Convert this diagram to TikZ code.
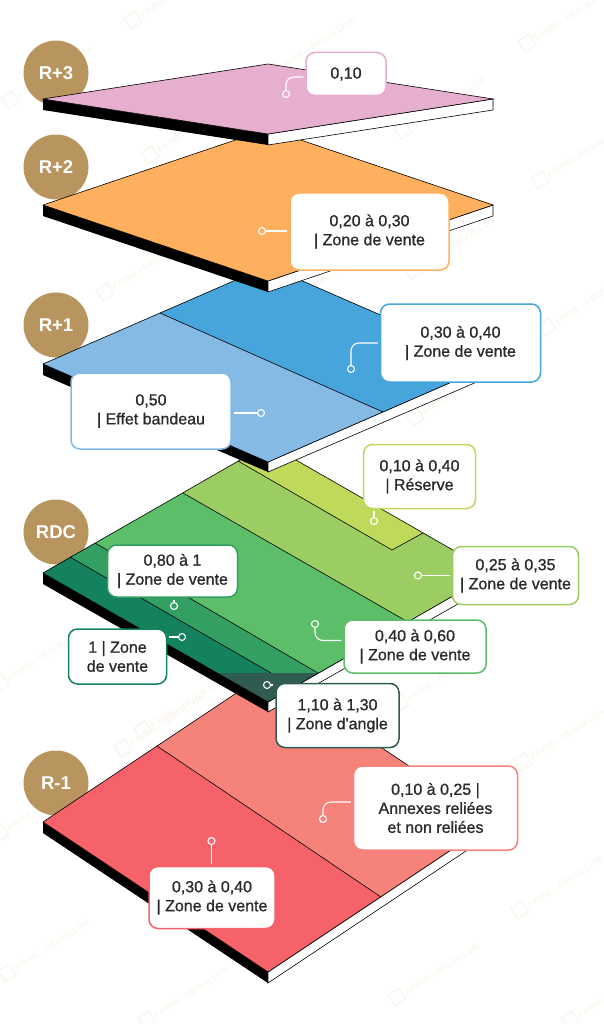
\documentclass[tikz,border=0pt]{standalone}
\usepackage{fontspec}
\setmainfont{Liberation Sans}
\newfontfamily\medfont[FakeBold=1]{Liberation Sans}
\usetikzlibrary{positioning}
\definecolor{badgecol}{HTML}{B8955F}
\definecolor{txtcol}{HTML}{2B2B2B}
\definecolor{wmcol}{HTML}{FAF6EE}
\definecolor{pinkcol}{HTML}{E6AECF}
\definecolor{orangecol}{HTML}{FFB05F}
\definecolor{bluecol}{HTML}{47A5DC}
\definecolor{lbluecol}{HTML}{85BAE5}
\definecolor{limecol}{HTML}{BFD95B}
\definecolor{lgreencol}{HTML}{9BCD63}
\definecolor{greencol}{HTML}{5CBE68}
\definecolor{mgreencol}{HTML}{339F63}
\definecolor{dgreencol}{HTML}{14815F}
\definecolor{tealcol}{HTML}{305B50}
\definecolor{redcol}{HTML}{F5626A}
\definecolor{salmoncol}{HTML}{F6837A}
\tikzset{badge/.style = {circle, fill = badgecol, minimum size = 65, inner sep = 0, text = white, font = \fontsize{18.5}{19}\selectfont\bfseries}}
\tikzset{lab/.style n args = {3}{draw = #1, fill = white, line width = 1.5, rounded corners = 9, minimum width = #2, minimum height = #3, inner sep = 2, align = center, text = txtcol, font = \fontsize{16}{19}\selectfont\medfont}}
\tikzset{dot/.style = {circle, draw = white, line width = 1.1, minimum size = 7, inner sep = 0}}
\tikzset{leader/.style = {white, line width = 1.1, rounded corners = 8, shorten > = 2}}
\tikzset{edge/.style = {draw = black, line width = 0.6}}
\begin{document}
\begin{tikzpicture}[x = 1pt, y = -1pt]
  \useasboundingbox (0, 0) rectangle (604, 1024);

  % watermark
  \foreach \i/\x/\y in {1/133/20, 2/272/72, 3/527/43, 4/150/155, 5/403/130, 6/540/180, 7/413/270, 8/10/100,
      9/105/292, 10/298/295, 11/415/417, 12/547/327, 13/0/683, 14/143/730, 15/400/703, 16/523/762, 17/0/833,
      18/123/748, 19/7/973, 20/147/1020, 21/397/997, 22/520/910, 23/570/1020, 24/280/470} {
    \node [rectangle, draw = wmcol, line width = 1.4, minimum size = 13, inner sep = 0, rotate = 33] (wmlogo\i) at (\x, \y) {};
    \node [right = 1 of wmlogo\i.east, anchor = west, rotate = 33, text = wmcol, inner sep = 1, font = \fontsize{8.5}{9}\selectfont\bfseries] (wmtext\i) {FAVRE—RÉGUILLON};
  }

  % badges
  \node [badge] (bR3) at (56, 73) {R+3};
  \node [badge] (bR2) at (56, 167) {R+2};
  \node [badge] (bR1) at (56, 325) {R+1};
  \node [badge] (bRDC) at (56, 532) {RDC};
  \node [badge] (bRm1) at (56, 783) {R-1};

  % slabs, lowest first
  % R-1
  \fill [black] (43, 822) -- (268, 972) -- (268, 983) -- (43, 833) -- cycle;
  \filldraw [fill = white, edge] (268, 972) -- (268, 983) -- (493, 833) -- (493, 822) -- cycle;
  \fill [redcol] (43, 822) -- (157, 746) -- (381, 897) -- (268, 972) -- cycle;
  \fill [salmoncol] (157, 746) -- (268, 672) -- (493, 822) -- (381, 897) -- cycle;
  \draw [edge] (43, 822) -- (268, 672) -- (493, 822) -- (268, 972) -- cycle;
  \draw [edge] (157, 746) -- (381, 897);

  % RDC
  \fill [black] (43, 573) -- (268, 702) -- (268, 712) -- (43, 584) -- cycle;
  \filldraw [fill = white, edge] (268, 702) -- (268, 712) -- (493, 584) -- (493, 573) -- cycle;
  \fill [dgreencol] (43, 573) -- (70, 557) -- (271, 673) -- (218, 673) -- cycle;
  \fill [mgreencol] (70, 557) -- (95, 543) -- (318, 673) -- (271, 673) -- cycle;
  \fill [greencol] (95, 543) -- (183, 493) -- (408, 622) -- (318, 673) -- cycle;
  \fill [lgreencol] (183, 493) -- (238, 461) -- (392, 550) -- (423, 533) -- (493, 573) -- (408, 622) -- cycle;
  \fill [limecol] (238, 461) -- (268, 444) -- (423, 533) -- (392, 550) -- cycle;
  \fill [tealcol] (218, 673) -- (318, 673) -- (268, 702) -- cycle;
  \draw [edge] (43, 573) -- (268, 444) -- (493, 573) -- (268, 702) -- cycle;
  \draw [edge] (70, 557) -- (271, 673);
  \draw [edge] (95, 543) -- (318, 673);
  \draw [edge] (183, 493) -- (408, 622);
  \draw [edge] (238, 461) -- (392, 550) -- (423, 533);

  % R+1
  \fill [black] (43, 364) -- (268, 462) -- (268, 472) -- (43, 375) -- cycle;
  \filldraw [fill = white, edge] (268, 462) -- (268, 472) -- (493, 375) -- (493, 364) -- cycle;
  \fill [lbluecol] (43, 364) -- (160, 313) -- (383, 412) -- (268, 462) -- cycle;
  \fill [bluecol] (160, 313) -- (268, 266) -- (493, 364) -- (383, 412) -- cycle;
  \draw [edge] (43, 364) -- (268, 266) -- (493, 364) -- (268, 462) -- cycle;
  \draw [edge] (160, 313) -- (383, 412);

  % R+2
  \fill [black] (43, 205) -- (268, 281) -- (268, 292) -- (43, 216) -- cycle;
  \filldraw [fill = white, edge] (268, 281) -- (268, 292) -- (493, 216) -- (493, 205) -- cycle;
  \filldraw [fill = orangecol, edge] (43, 205) -- (268, 129) -- (493, 205) -- (268, 281) -- cycle;

  % R+3
  \fill [black] (43, 99) -- (268, 134) -- (268, 145) -- (43, 110) -- cycle;
  \filldraw [fill = white, edge] (268, 134) -- (268, 145) -- (493, 110) -- (493, 99) -- cycle;
  \filldraw [fill = pinkcol, edge] (43, 99) -- (268, 64) -- (493, 99) -- (268, 134) -- cycle;

  % labels
  \node [lab = {pinkcol}{80}{43}] (lR3) at (346, 74) {0,10};
  \node [lab = {orangecol}{159}{77}] (lR2) at (369.5, 231.5) {0,20 à 0,30\\| Zone de vente};
  \node [lab = {bluecol}{160}{78}] (lR1a) at (460.5, 343) {0,30 à 0,40\\| Zone de vente};
  \node [lab = {lbluecol}{160}{76}] (lR1b) at (151, 411) {0,50\\| Effet bandeau};
  \node [lab = {limecol}{112}{64}] (lRes) at (419.5, 476.5) {0,10 à 0,40\\| Réserve};
  \node [lab = {lgreencol}{126}{58}] (lRa) at (515.5, 575.5) {0,25 à 0,35\\| Zone de vente};
  \node [lab = {greencol}{142}{53}] (lRb) at (415, 646.5) {0,40 à 0,60\\| Zone de vente};
  \node [lab = {tealcol}{123}{64}] (lRc) at (337.5, 715.5) {1,10 à 1,30\\| Zone d'angle};
  \node [lab = {mgreencol}{130}{52}] (lRd) at (172.5, 571) {0,80 à 1\\| Zone de vente};
  \node [lab = {dgreencol}{98}{55}] (lRe) at (117.5, 656.5) {1 | Zone\\de vente};
  \node [lab = {salmoncol}{164}{84}] (lMa) at (435.5, 808) {0,10 à 0,25 |\\Annexes reliées\\et non reliées};
  \node [lab = {redcol}{126}{62}] (lMb) at (212, 897.5) {0,30 à 0,40\\| Zone de vente};

  % dots and leaders
  \node [dot] (dR3) at (286, 94) {};
  \node [dot] (dR2) at (262, 231) {};
  \node [dot] (dR1a) at (351, 369) {};
  \node [dot] (dR1b) at (261, 413) {};
  \node [dot] (dRes) at (374, 521) {};
  \node [dot] (dRa) at (418, 575.5) {};
  \node [dot] (dRb) at (315, 624) {};
  \node [dot] (dRc) at (267, 685) {};
  \node [dot] (dRd) at (174, 606) {};
  \node [dot] (dRe) at (182, 637) {};
  \node [dot] (dMa) at (323, 819) {};
  \node [dot] (dMb) at (211.5, 841) {};

  \draw [leader] (dR3) |- ([yshift = -3]lR3.west);
  \draw [leader] (dR2) -- (lR2.west |- dR2);
  \draw [leader] (dR1a) |- (lR1a.west);
  \draw [leader] (dR1b) -- (lR1b.east |- dR1b);
  \draw [leader] (dRes) -- (dRes |- lRes.south);
  \draw [leader] (dRa) -- (lRa.west |- dRa);
  \draw [leader] (dRb) |- ([yshift = 6]lRb.west);
  \draw [leader] (dRc) -- (lRc.north west |- dRc);
  \draw [leader] (dRd) -- (dRd |- lRd.south);
  \draw [leader] (dRe) -- (lRe.east |- dRe);
  \draw [leader] (dMa) |- ([yshift = 6]lMa.west);
  \draw [leader] (dMb) -- (dMb |- lMb.north);
\end{tikzpicture}
\end{document}
